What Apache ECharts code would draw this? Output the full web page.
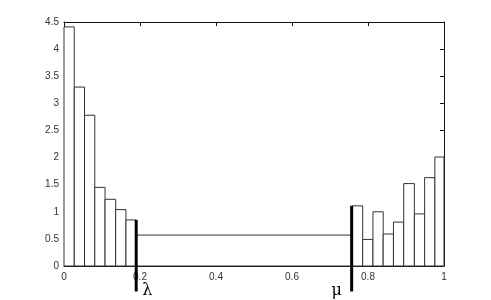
<!DOCTYPE html>
<html>
<head>
<meta charset="utf-8">
<script src="https://cdn.jsdelivr.net/npm/echarts@6/dist/echarts.min.js"></script>
<style>
  html, body { margin: 0; padding: 0; background: #fff; }
  #chart { width: 491px; height: 300px; }
</style>
</head>
<body>
<div id="chart"></div>
<script>
// bin edges (left tail, one wide middle bin, right tail)
const binEdges = [0, 0.027, 0.054, 0.081, 0.108, 0.136, 0.163, 0.19,
                  0.759, 0.786, 0.813, 0.84, 0.867, 0.894, 0.922, 0.949, 0.976, 1];
// density of each bin
const binHeights = [4.41, 3.30, 2.78, 1.45, 1.23, 1.04, 0.85, 0.57,
                    1.11, 0.49, 1.00, 0.59, 0.81, 1.52, 0.96, 1.63, 2.01];

// thresholds drawn as thick bars: x, top, bottom (below axis), label
const cutNames = ['λ', 'μ'];
const cutX = [0.19, 0.757];
const cutTop = [0.85, 1.11];
const cutBottom = [-0.47, -0.47];

const bars = binHeights.map((h, i) => [binEdges[i], binEdges[i + 1], h]);
const cuts = cutX.map((x, i) => [x, cutTop[i], cutBottom[i], cutNames[i], i === 0 ? 11 : -15]);

const labelStyle = { color: '#333', fontSize: 10, fontFamily: 'Liberation Sans, Arial, sans-serif' };
const lineStyle = { color: '#111', width: 1 };

// mirror axes on top / right, ticks only (matlab style box)
const mirrorX = {
  type: 'value', position: 'top', min: 0, max: 1, interval: 0.2,
  axisLine: { show: true, onZero: false, lineStyle: lineStyle },
  axisTick: { show: true, inside: true, length: 4, lineStyle: lineStyle },
  axisLabel: { show: false },
  splitLine: { show: false }
};
const mirrorY = {
  type: 'value', position: 'right', min: 0, max: 4.5, interval: 0.5,
  axisLine: { show: true, onZero: false, lineStyle: lineStyle },
  axisTick: { show: true, inside: true, length: 4, lineStyle: lineStyle },
  axisLabel: { show: false },
  splitLine: { show: false }
};

const chart = echarts.init(document.getElementById('chart'));
chart.setOption({
  animation: false,
  backgroundColor: '#fff',
  grid: { left: 64, right: 47, top: 22, bottom: 34 },
  xAxis: [{
    type: 'value', position: 'bottom', min: 0, max: 1, interval: 0.2,
    axisLine: { onZero: false, lineStyle: lineStyle },
    axisTick: { inside: true, length: 4, lineStyle: lineStyle },
    axisLabel: Object.assign({ margin: 6 }, labelStyle),
    splitLine: { show: false }
  }, mirrorX],
  yAxis: [{
    type: 'value', position: 'left', min: 0, max: 4.5, interval: 0.5,
    axisLine: { show: true, onZero: false, lineStyle: lineStyle },
    axisTick: { show: true, inside: true, length: 4, lineStyle: lineStyle },
    axisLabel: Object.assign({ margin: 5 }, labelStyle),
    splitLine: { show: false }
  }, mirrorY],
  series: [{
    type: 'custom',
    xAxisIndex: 0, yAxisIndex: 0,
    encode: { x: [0, 1], y: 2 },
    data: bars,
    renderItem: (params, api) => {
      const p0 = api.coord([api.value(0), api.value(2)]);
      const p1 = api.coord([api.value(1), 0]);
      return {
        type: 'rect',
        shape: { x: p0[0], y: p0[1], width: p1[0] - p0[0], height: p1[1] - p0[1] },
        style: { fill: '#fff', stroke: '#333', lineWidth: 1 }
      };
    }
  }, {
    // empty series so the mirror axes get drawn
    type: 'line', xAxisIndex: 1, yAxisIndex: 1, data: [], silent: true
  }, {
    type: 'custom',
    xAxisIndex: 0, yAxisIndex: 0,
    clip: false,
    z: 5,
    encode: { x: 0, y: [1, 2] },
    data: cuts,
    renderItem: (params, api) => {
      const x = api.value(0);
      const top = api.coord([x, api.value(1)]);
      const bot = api.coord([x, api.value(2)]);
      const off = api.value(4);
      return {
        type: 'group',
        children: [{
          type: 'line',
          shape: { x1: top[0], y1: top[1], x2: bot[0], y2: bot[1] },
          style: { stroke: '#000', lineWidth: 3 }
        }, {
          type: 'text',
          x: top[0] + off, y: bot[1] - 1,
          style: {
            text: cuts[params.dataIndex][3],
            fill: '#000', font: '16px "DejaVu Serif", "Liberation Serif", serif',
            align: 'center', verticalAlign: 'middle'
          }
        }]
      };
    }
  }]
});
</script>
</body>
</html>
